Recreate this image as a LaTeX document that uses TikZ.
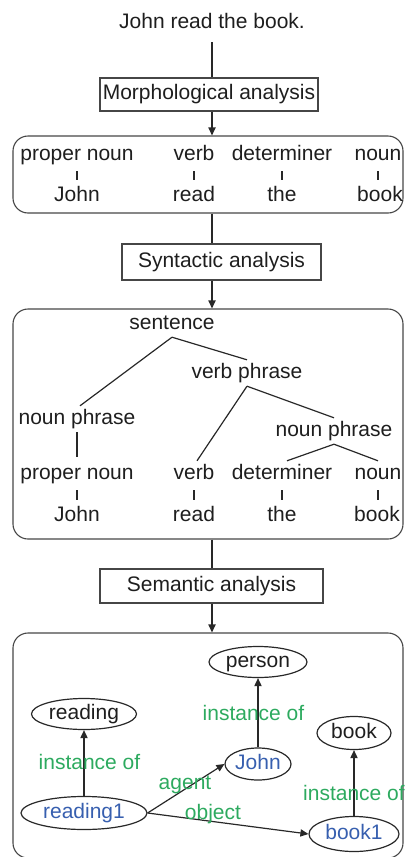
\documentclass[tikz,border=0pt]{standalone}
\usepackage{fontspec}
\setmainfont{Liberation Sans}
\usetikzlibrary{shapes.geometric,arrows.meta}
\definecolor{lnk}{RGB}{40,40,40}
\definecolor{bxc}{RGB}{70,70,70}
\definecolor{txc}{RGB}{30,30,30}
\definecolor{grn}{RGB}{45,170,95}
\definecolor{blu}{RGB}{55,95,175}
\begin{document}
\begin{tikzpicture}[x=0.5pt,y=-0.5pt,
  font=\fontsize{10.5}{12}\selectfont,
  txt/.style={inner sep=1.5pt, text height=7.6pt, text depth=2.2pt, text=txc},
  stage/.style={draw=bxc, line width=0.55pt, inner sep=0pt, text height=7.6pt, text depth=2.2pt, text=txc},
  cont/.style={draw=bxc, line width=0.55pt, rounded corners=7.5pt, inner sep=0pt},
  ell/.style={ellipse, draw=lnk, line width=0.6pt, inner sep=0pt, text height=7.6pt, text depth=2.2pt},
  lbl/.style={inner sep=0pt, text=grn, text height=7.6pt, text depth=2.2pt},
  ln/.style={draw=lnk, line width=0.6pt},
  tick/.style={draw=lnk, line width=0.6pt, shorten <=1.5pt, shorten >=1.5pt},
  arr/.style={draw=lnk, line width=0.6pt, -{Triangle[length=4pt,width=3.6pt]}}
]
\useasboundingbox (0,0) rectangle (406,857);

% top
\node[txt, inner sep=4.5pt] (title) at (212,23) {John read the book.};
\node[stage, minimum width=109pt, minimum height=16.5pt] (morph) at (209,94.5) {Morphological analysis};
\node[cont, minimum width=195pt, minimum height=38.5pt] (box1) at (208,174.5) {};
\draw[ln] (title.south) -- (title |- morph.north);
\draw[arr] (morph.south -| title) -- (box1.north -| title);

% morphological result
\node[txt] (m1) at (77,155) {proper noun};
\node[txt] (m2) at (194,155) {verb};
\node[txt] (m3) at (282,155) {determiner};
\node[txt] (m4) at (378,155) {noun};
\node[txt] (w1) at (77,196) {John};
\node[txt] (w2) at (194,196) {read};
\node[txt] (w3) at (282,196) {the};
\node[txt] (w4) at (380,196) {book};
\draw[tick] (m1.south) -- (w1.north);
\draw[tick] (m2.south) -- (w2.north);
\draw[tick] (m3.south) -- (w3.north);
\draw[tick] (m4.south) -- (m4.south |- w4.north);

% syntactic
\node[stage, minimum width=99.5pt, minimum height=18pt] (synt) at (221.5,262) {Syntactic analysis};
\node[cont, minimum width=195pt, minimum height=115pt] (box2) at (208,424) {};
\draw[ln] (box1.south -| title) -- (synt.north -| title);
\draw[arr] (synt.south -| title) -- (box2.north -| title);

\node[txt] (s) at (172,324) {sentence};
\node[txt] (vp) at (247,373) {verb phrase};
\node[txt] (np1) at (77,419) {noun phrase};
\node[txt] (np2) at (334,431) {noun phrase};
\node[txt] (pn) at (77,474) {proper noun};
\node[txt] (v) at (194,474) {verb};
\node[txt] (d) at (282,474) {determiner};
\node[txt] (n) at (378,474) {noun};
\node[txt] (t1) at (77,516) {John};
\node[txt] (t2) at (194,516) {read};
\node[txt] (t3) at (282,516) {the};
\node[txt] (t4) at (377,516) {book};
\draw[ln] (s.south) -- ([xshift=1.5pt]np1.north);
\draw[ln] (s.south) -- (vp.north);
\draw[ln] (vp.south) -- ([xshift=1.5pt]v.north);
\draw[ln] (vp.south) -- (np2.north);
\draw[ln] (np2.south) -- ([xshift=2.5pt]d.north);
\draw[ln] (np2.south) -- (n.north);
\draw[ln, shorten >=2pt] (np1.south) -- (pn.north);
\draw[tick] (pn.south) -- (t1.north);
\draw[tick] (v.south) -- (t2.north);
\draw[tick] (d.south) -- (t3.north);
\draw[tick] (n.south) -- (n.south |- t4.north);

% semantic
\node[stage, minimum width=111.5pt, minimum height=17pt] (sem) at (211.5,586) {Semantic analysis};
\node[cont, minimum width=195pt, minimum height=112.5pt] (box3) at (208,745.5) {};
\draw[ln] (box2.south -| title) -- (sem.north -| title);
\draw[arr] (sem.south -| title) -- (box3.north -| title);

\node[ell, text=txc, minimum width=49pt, minimum height=15.5pt] (person) at (258,662) {person};
\node[ell, text=txc, minimum width=52.5pt, minimum height=15.5pt] (reading) at (84,714) {reading};
\node[ell, text=txc, minimum width=37pt, minimum height=16.5pt] (book) at (354,733) {book};
\node[ell, text=blu, minimum width=33pt, minimum height=16pt] (john) at (258,764) {John};
\node[ell, text=blu, minimum width=63pt, minimum height=16.5pt] (reading1) at (84,813) {reading1};
\node[ell, text=blu, minimum width=45pt, minimum height=17.5pt] (book1) at (354,834) {book1};

\draw[arr] (reading1.north) -- (reading.south);
\draw[arr] (john.north) -- (person.south);
\draw[arr] (book1.north) -- (book.south);
\draw[arr] (reading1.east) -- (john.west);
\draw[arr] (reading1.east) -- (book1.west);

\node[lbl] (i1) at (89.5,764) {instance of};
\node[lbl] (i2) at (253.5,715) {instance of};
\node[lbl] (i3) at (354,795) {instance of};
\node[lbl] (ag) at (185,784) {agent};
\node[lbl] (ob) at (213,814) {object};
\end{tikzpicture}
\end{document}
